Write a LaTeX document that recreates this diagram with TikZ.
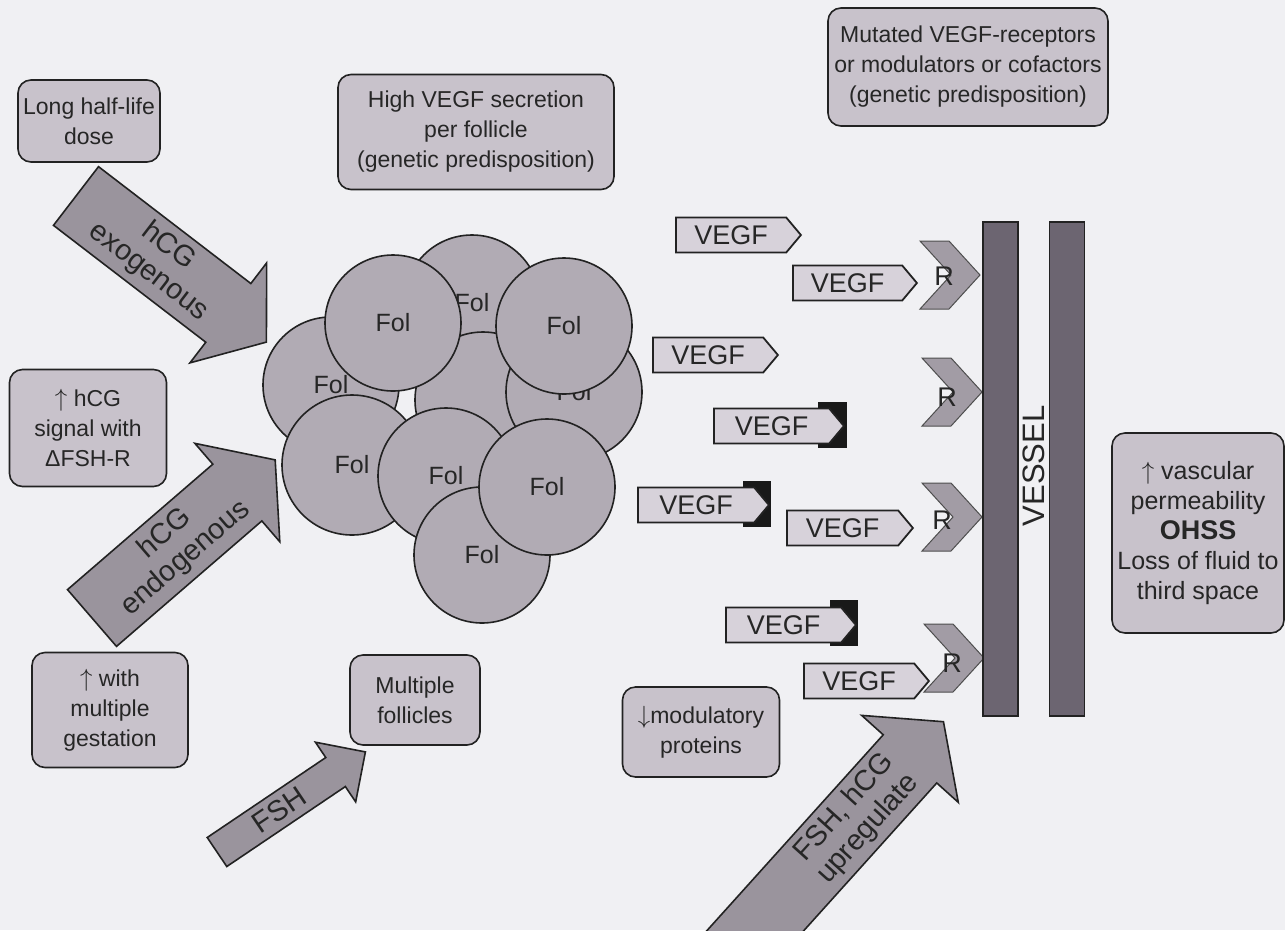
\documentclass[tikz,border=0pt]{standalone}
\usepackage{fontspec}
\setmainfont{Liberation Sans}
\usetikzlibrary{shapes.symbols}
\definecolor{bgc}{HTML}{F0F0F3}
\definecolor{boxc}{HTML}{C8C2CB}
\definecolor{folc}{HTML}{B1ABB4}
\definecolor{arrc}{HTML}{9A949D}
\definecolor{vesc}{HTML}{6C6571}
\definecolor{chevc}{HTML}{A29CA5}
\definecolor{tagc}{HTML}{D7D2DA}
\definecolor{txt}{HTML}{262626}
\definecolor{edge}{HTML}{222222}
\newcommand\bigarr[9]{%
\begin{scope}[shift={#2},rotate=#3]
\path[bigarrow] (0,{-#5/2}) -- ({#4-#7},{-#5/2}) -- ({#4-#7},{-#6/2}) -- (#4,0) -- ({#4-#7},{#6/2}) -- ({#4-#7},{#5/2}) -- (0,{#5/2}) -- cycle;
\node[arrtext,transform shape] (#1) at (#9,0) {#8};
\end{scope}}
\begin{document}
\begin{tikzpicture}[x=1pt,y=-1pt,
 box/.style={draw=edge,line width=1.6pt,rounded corners=13pt,fill=boxc,align=center,text=txt,inner sep=3pt,font=\fontsize{23}{30}\selectfont},
 fol/.style={circle,draw=edge,line width=1.6pt,fill=folc,minimum size=136pt,inner sep=0pt,text=txt,font=\fontsize{25}{28}\selectfont},
 bigarrow/.style={draw=edge,line width=1.6pt,fill=arrc,line join=miter},
 arrtext/.style={align=center,text=txt,font=\fontsize{29}{32}\selectfont,inner sep=0pt},
 tag/.style={signal,signal to=east,signal pointer angle=100,draw=edge,line width=1.8pt,fill=tagc,minimum height=35pt,text=txt,font=\fontsize{27}{28}\selectfont,anchor=west,inner sep=2pt},
 block/.style={fill=black!90},
 chev/.style={draw=edge!80,line width=1pt,fill=chevc,line join=miter},
 rlab/.style={text=txt,font=\fontsize{27}{28}\selectfont,inner sep=0pt},
 vbar/.style={draw=edge,line width=1.6pt,fill=vesc,minimum width=35pt,minimum height=494pt,inner sep=0pt}
]
\useasboundingbox (0,0) rectangle (1285,930);
\fill[bgc] (0,0) rectangle (1285,930);

% boxes
\node[box,minimum width=142pt,minimum height=82pt] (b1) at (89,121) {Long half-life\\dose};
\node[box,minimum width=276pt,minimum height=115pt] (b2) at (476,132) {High VEGF secretion\\per follicle\\(genetic predisposition)};
\node[box,minimum width=280pt,minimum height=118pt] (b3) at (968,67) {Mutated VEGF-receptors\\or modulators or cofactors\\(genetic predisposition)};
\node[box,minimum width=157pt,minimum height=117pt] (b4) at (88,428) {$\uparrow$ hCG\\signal with\\ΔFSH-R};
\node[box,minimum width=156pt,minimum height=115pt] (b5) at (110,710) {$\uparrow$ with\\multiple\\gestation};
\node[box,minimum width=130pt,minimum height=90pt] (b6) at (415,700) {Multiple\\follicles};
\node[box,minimum width=157pt,minimum height=90pt] (b7) at (701,732) {$\downarrow$modulatory\\proteins};
\node[box,minimum width=172pt,minimum height=200pt,font=\fontsize{25}{30}\selectfont] (b8) at (1198,533) {$\uparrow$ vascular\\permeability\\{\bfseries\fontsize{27}{30}\selectfont OHSS}\\Loss of fluid to\\third space};

% big arrows
\bigarr{aexo}{(76,196)}{-37.5}{240}{74}{126}{48}{hCG\\exogenous}{104}
\bigarr{aendo}{(92,618)}{40.8}{242}{75}{130}{50}{hCG\\endogenous}{110}
\bigarr{afsh}{(217,852)}{34}{179}{35}{72}{36}{FSH}{75}
\begin{scope}
\clip (0,0) rectangle (1285,930);
\bigarr{aup}{(728,961)}{48}{322}{72}{130}{50}{FSH, hCG\\upregulate}{192}
\end{scope}

% follicles
\node[fol] (f1) at (472,303) {Fol};
\node[fol] (f3) at (483,400) {};
\node[fol] (f2) at (331,385) {Fol};
\node[fol] (f4) at (574,392) {Fol};
\node[fol] (f5) at (393,323) {Fol};
\node[fol] (f6) at (564,326) {Fol};
\node[fol,minimum size=140pt] (f7) at (352,465) {Fol};
\node[fol] (f8) at (446,476) {Fol};
\node[fol] (f9) at (482,555) {Fol};
\node[fol] (f10) at (547,487) {Fol};

% blocked VEGF ends
\fill[block] (818,402) rectangle (847,448);
\fill[block] (743,481) rectangle (771,527);
\fill[block] (830,600) rectangle (858,646);

% VEGF tags
\node[tag,minimum width=125pt] (v1) at (675,235) {VEGF};
\node[tag,minimum width=124pt] (v2) at (792,283) {VEGF};
\node[tag,minimum width=125pt] (v3) at (652,355) {VEGF};
\node[tag,minimum width=130pt] (v4) at (713,426) {VEGF};
\node[tag,minimum width=131pt] (v5) at (637,505) {VEGF};
\node[tag,minimum width=126pt] (v6) at (786,528) {VEGF};
\node[tag,minimum width=130pt] (v7) at (725,625) {VEGF};
\node[tag,minimum width=125pt] (v8) at (803,681) {VEGF};

% receptors
\draw[chev,shift={(980,275)}] (-60,-34) -- (-31,-34) -- (0,0) -- (-31,34) -- (-60,34) -- (-29,0) -- cycle;
\draw[chev,shift={(982,392)}] (-60,-34) -- (-31,-34) -- (0,0) -- (-31,34) -- (-60,34) -- (-29,0) -- cycle;
\draw[chev,shift={(982,517)}] (-60,-34) -- (-31,-34) -- (0,0) -- (-31,34) -- (-60,34) -- (-29,0) -- cycle;
\draw[chev,shift={(984,658)}] (-60,-34) -- (-31,-34) -- (0,0) -- (-31,34) -- (-60,34) -- (-29,0) -- cycle;
\node[rlab] (r1) at (944,276) {R};
\node[rlab] (r2) at (947,397) {R};
\node[rlab] (r3) at (942,520) {R};
\node[rlab] (r4) at (952,663) {R};

% vessel
\node[vbar] (vl) at (1000.5,469) {};
\node[vbar] (vr) at (1067,469) {};
\node[rotate=90,text=txt,font=\fontsize{31}{31}\selectfont,inner sep=0pt] (vtext) at (1034,466) {VESSEL};
\end{tikzpicture}
\end{document}
